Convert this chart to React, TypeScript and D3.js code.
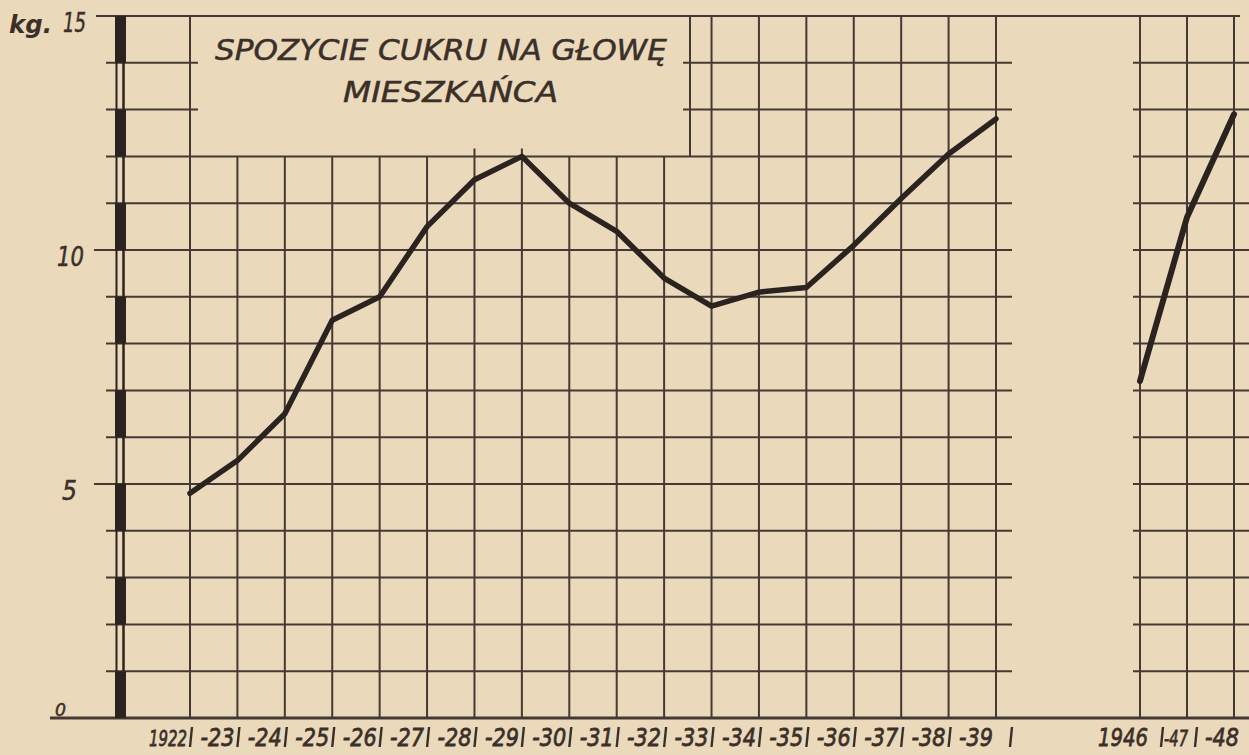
import React from "react";
import * as d3 from "d3";

const years = [1922, 1923, 1924, 1925, 1926, 1927, 1928, 1929, 1930, 1931, 1932, 1933, 1934, 1935, 1936, 1937, 1938, 1939];
const sugarKg = [4.8, 5.5, 6.5, 8.5, 9.0, 10.5, 11.5, 12.0, 11.0, 10.4, 9.4, 8.8, 9.1, 9.2, 10.1, 11.1, 12.05, 12.8];
const yearLabels = ["1922", "-23", "-24", "-25", "-26", "-27", "-28", "-29", "-30", "-31", "-32", "-33", "-34", "-35", "-36", "-37", "-38", "-39"];

const postYears = [1946, 1947, 1948];
const postSugarKg = [7.2, 10.7, 12.9];
const postLabels = ["1946", "-47", "-48"];

const yTickValues = [0, 5, 10, 15];
const yTickLabels = ["0", "5", "10", "15"];
const titleLines = ["SPOZYCIE CUKRU NA GŁOWĘ", "MIESZKAŃCA"];

const W = 1249;
const H = 755;
const BG = "#ebd9bc";
const GRID = "#453a33";
const INK = "#2b231f";
const TXT = "#3b3029";
const FONT = "'DejaVu Sans', 'Liberation Sans', sans-serif";

const y = d3.scaleLinear().domain([0, 15]).range([718, 16]);
const x = d3.scaleLinear().domain([1922, 1939]).range([190, 996]);
const x2 = d3.scaleLinear().domain([1946, 1948]).range([1140, 1234]);

function FText(props: { x: number; y: number; len: number; size: number; anchor?: string; children: React.ReactNode; weight?: string; sw?: number }) {
  const { size, anchor = "middle", weight = "normal", sw = 0.5 } = props;
  return (
    <text
      x={props.x}
      y={props.y}
      textLength={props.len}
      lengthAdjust="spacingAndGlyphs"
      textAnchor={anchor}
      fontFamily={FONT}
      fontStyle="italic"
      fontWeight={weight}
      fontSize={size}
      fill={TXT}
      stroke={TXT}
      strokeWidth={weight === "bold" ? 0 : sw}
    >
      {props.children}
    </text>
  );
}

function Bar(props: { x: number }) {
  return <line x1={props.x + 1} x2={props.x - 1} y1={727} y2={747} stroke={TXT} strokeWidth={2.4} />;
}

export default function App() {
  const units = d3.range(0, 15);
  const hLevels = d3.range(1, 15);
  const line = d3
    .line<[number, number]>()
    .x((d) => d[0])
    .y((d) => d[1]);
  const mainPts: [number, number][] = years.map((yr, i) => [x(yr), y(sugarKg[i])]);
  const postPts: [number, number][] = postYears.map((yr, i) => [x2(yr), y(postSugarKg[i])]);
  const boxRight = 690;
  const boxTopVal = 12;

  return (
    <svg width={W} height={H} style={{ position: "absolute", left: 0, top: 0 }}>
      <rect x={0} y={0} width={W} height={H} fill={BG} />

      {/* horizontal grid lines, left panel */}
      {hLevels.map((v) => {
        const left = v % 5 === 0 ? 94 : 106;
        if (v > boxTopVal) {
          return (
            <g key={"h" + v}>
              <line x1={left} x2={x(1922) + 8} y1={y(v)} y2={y(v)} stroke={GRID} strokeWidth={2} />
              <line x1={boxRight - 7} x2={1012} y1={y(v)} y2={y(v)} stroke={GRID} strokeWidth={2} />
            </g>
          );
        }
        return <line key={"h" + v} x1={left} x2={1012} y1={y(v)} y2={y(v)} stroke={GRID} strokeWidth={2} />;
      })}

      {/* horizontal grid lines, right panel */}
      {hLevels.map((v) => (
        <line key={"h2" + v} x1={1133} x2={W} y1={y(v)} y2={y(v)} stroke={GRID} strokeWidth={2} />
      ))}

      {/* top line and baseline */}
      <line x1={96} x2={1240} y1={y(15)} y2={y(15)} stroke={GRID} strokeWidth={2.2} />
      <line x1={50} x2={W} y1={y(0)} y2={y(0)} stroke={GRID} strokeWidth={3.2} />

      {/* vertical grid lines, left panel */}
      {years.map((yr) => {
        const inBox = x(yr) > x(1922) + 5 && x(yr) < boxRight;
        const poke = yr === 1928 || yr === 1929 ? 8 : 0;
        const top = inBox ? y(boxTopVal) - poke : y(15);
        return <line key={"v" + yr} x1={x(yr)} x2={x(yr)} y1={top} y2={y(0)} stroke={GRID} strokeWidth={2} />;
      })}
      <line x1={boxRight} x2={boxRight} y1={y(15)} y2={y(boxTopVal)} stroke={GRID} strokeWidth={2} />

      {/* vertical grid lines, right panel */}
      {postYears.map((yr) => (
        <line key={"v2" + yr} x1={x2(yr)} x2={x2(yr)} y1={y(15)} y2={y(0)} stroke={GRID} strokeWidth={2} />
      ))}

      {/* striped thick axis */}
      {units.map((v) =>
        v % 2 === 0 ? (
          <rect key={"ax" + v} x={115} y={y(v + 1)} width={11} height={y(v) - y(v + 1)} fill={INK} />
        ) : (
          <g key={"ax" + v}>
            <line x1={116.5} x2={116.5} y1={y(v + 1)} y2={y(v)} stroke={INK} strokeWidth={2} />
            <line x1={123.5} x2={123.5} y1={y(v + 1)} y2={y(v)} stroke={INK} strokeWidth={2.5} />
          </g>
        )
      )}

      {/* data lines */}
      <path d={line(mainPts) || ""} fill="none" stroke={INK} strokeWidth={5.5} strokeLinejoin="round" strokeLinecap="round" />
      <path d={line(postPts) || ""} fill="none" stroke={INK} strokeWidth={6} strokeLinejoin="round" strokeLinecap="round" />

      {/* title */}
      <FText x={215} y={60} len={452} size={28} anchor="start">
        {titleLines[0]}
      </FText>
      <FText x={343} y={102} len={215} size={28} anchor="start">
        {titleLines[1]}
      </FText>

      {/* y tick labels */}
      {yTickValues.map((v, i) =>
        v === 0 ? (
          <FText key={"yl" + v} x={55} y={y(v) - 2} len={11} size={17} anchor="start">
            {yTickLabels[i]}
          </FText>
        ) : (
          <FText key={"yl" + v} x={v === 10 ? 57 : v === 5 ? 62 : 63} y={y(v) + 16} len={v === 5 ? 15 : v === 10 ? 27 : 23} size={26} anchor="start">
            {yTickLabels[i]}
          </FText>
        )
      )}
      <FText x={9} y={y(15) + 17} len={43} size={24} anchor="start" weight="bold">
        kg.
      </FText>

      {/* x tick labels, left panel, with separator bars at the gridlines */}
      {years.map((yr, i) => (
        <g key={"xl" + yr}>
          <FText x={x(yr) - (yr === 1922 ? 22 : 20)} y={746} len={yr === 1922 ? 38 : 34} size={yr === 1922 ? 22 : 25} sw={0.8}>
            {yearLabels[i]}
          </FText>
          <Bar x={yr === 1939 ? x(yr) + 15 : x(yr) + 1} />
        </g>
      ))}

      {/* x tick labels, right panel */}
      {postYears.map((yr, i) => (
        <g key={"xl2" + yr}>
          <FText x={x2(yr) - (i === 0 ? 17 : i === 1 ? 11 : 12)} y={746} len={i === 0 ? 50 : i === 1 ? 24 : 34} size={i === 1 ? 22 : 25} sw={0.8}>
            {postLabels[i]}
          </FText>
          {i > 0 && <Bar x={x2(yr) - (i === 1 ? 25 : 38)} />}
        </g>
      ))}
    </svg>
  );
}
